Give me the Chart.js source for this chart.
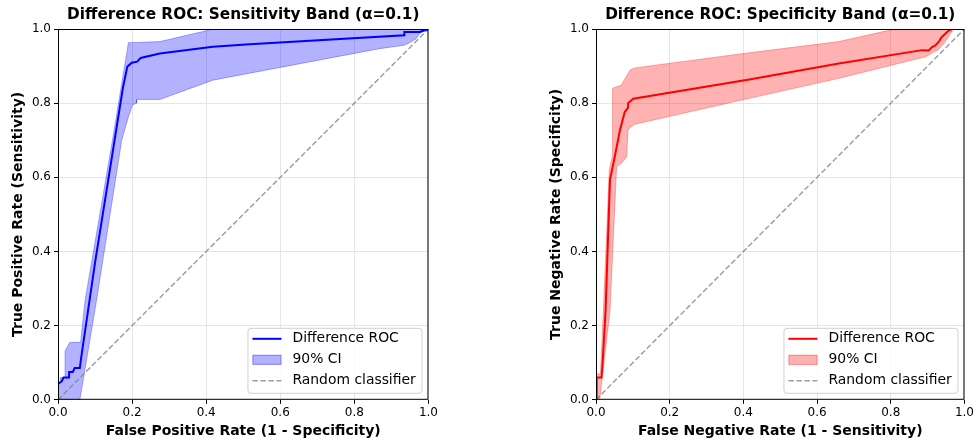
<!DOCTYPE html>
<html>
<head>
<meta charset="utf-8">
<script src="https://cdn.jsdelivr.net/npm/chart.js@4"></script>
<style>
  body { margin: 0; background: #fff; }
  .wrap { position: absolute; top: 0; height: 441px; }
</style>
</head>
<body>
<div class="wrap" style="left:0;width:440px"><canvas id="sensChart"></canvas></div>
<div class="wrap" style="left:538px;width:438px"><canvas id="specChart"></canvas></div>
<script>
// Sensitivity band (left panel)
const sensRocX = [0, 0, 0.01, 0.015, 0.03, 0.03, 0.04, 0.045, 0.055, 0.059, 0.062, 0.1, 0.14, 0.175, 0.187, 0.199, 0.214, 0.223, 0.275, 0.418, 0.517, 0.935, 0.935, 0.976, 1];
const sensRocY = [0, 0.043, 0.05, 0.06, 0.06, 0.075, 0.075, 0.086, 0.086, 0.086, 0.11, 0.37, 0.62, 0.84, 0.898, 0.909, 0.912, 0.922, 0.934, 0.952, 0.959, 0.983, 0.992, 0.992, 1];
const sensUpX = [0, 0.006, 0.006, 0.019, 0.019, 0.032, 0.061, 0.073, 0.147, 0.19, 0.275, 0.42, 1];
const sensUpY = [0.045, 0.045, 0.06, 0.06, 0.132, 0.155, 0.155, 0.268, 0.7, 0.963, 0.966, 1, 1];
const sensLoX = [0, 0.059, 0.104, 0.172, 0.19, 0.201, 0.212, 0.212, 0.275, 0.418, 0.868, 0.935, 0.949, 0.967, 0.976, 1];
const sensLoY = [0, 0, 0.268, 0.7, 0.763, 0.795, 0.8, 0.81, 0.81, 0.862, 0.947, 0.956, 0.963, 0.974, 0.988, 1];

// Specificity band (right panel)
const specRocX = [0, 0.002, 0.015, 0.018, 0.026, 0.038, 0.049, 0.065, 0.078, 0.087, 0.087, 0.101, 0.416, 0.659, 0.885, 0.903, 0.912, 0.92, 0.93, 0.938, 0.948, 0.957, 0.966, 0.978, 1];
const specRocY = [0, 0.06, 0.06, 0.1, 0.24, 0.594, 0.646, 0.727, 0.776, 0.788, 0.8, 0.812, 0.864, 0.907, 0.943, 0.942, 0.951, 0.955, 0.965, 0.978, 0.987, 0.996, 1, 1, 1];
const specUpX = [0, 0, 0.012, 0.02, 0.036, 0.045, 0.045, 0.069, 0.092, 0.105, 0.416, 0.659, 0.81, 1];
const specUpY = [0, 0.07, 0.07, 0.24, 0.62, 0.66, 0.84, 0.849, 0.889, 0.895, 0.936, 0.966, 1, 1];
const specLoX = [0, 0.01, 0.038, 0.056, 0.069, 0.083, 0.087, 0.092, 0.105, 0.416, 0.659, 0.894, 0.912, 0.93, 0.945, 0.957, 0.97, 1];
const specLoY = [0, 0, 0.24, 0.63, 0.638, 0.655, 0.727, 0.734, 0.743, 0.813, 0.867, 0.925, 0.935, 0.945, 0.962, 0.98, 1, 1];

const diagonal = [0, 1];
const tickValues = [0, 0.2, 0.4, 0.6, 0.8, 1.0];

const toPts = (xs, ys) => xs.map((x, i) => ({ x: x, y: ys[i] }));
// closed polygon: upper edge then lower edge reversed
const bandPts = (ux, uy, lx, ly) => toPts(ux, uy).concat(toPts(lx, ly).reverse());

const FONT = "'DejaVu Sans', sans-serif";
const DIAG_COLOR = 'rgba(128,128,128,0.75)';

// spines on all four sides + title centred over the plot area
const framePlugin = {
    id: 'frame',
    afterDraw(chart) {
        const a = chart.chartArea, c = chart.ctx;
        c.save();
        c.strokeStyle = '#000';
        c.lineWidth = 1;
        c.strokeRect(a.left + 0.5, a.top + 0.5, a.right - a.left - 1, a.bottom - a.top - 1);
        c.fillStyle = '#000';
        c.font = 'bold 15.3px ' + FONT;
        c.textAlign = 'center';
        c.textBaseline = 'middle';
        c.fillText(chart.options.plugins.frame.title, (a.left + a.right) / 2, 15);
        c.restore();
    }
};

const legendPlugin = {
    id: 'boxLegend',
    afterDraw(chart) {
        const a = chart.chartArea, c = chart.ctx;
        const o = chart.options.plugins.boxLegend;
        const w = 174, h = 65;
        const x = a.right - 7 - w, y = a.bottom - 7 - h;
        c.save();
        c.fillStyle = 'rgba(255,255,255,0.8)';
        c.strokeStyle = '#d0d0d0';
        c.lineWidth = 1;
        c.beginPath();
        c.roundRect(x + 0.5, y + 0.5, w, h, 3);
        c.fill();
        c.stroke();
        c.font = '13.9px ' + FONT;
        c.textBaseline = 'middle';
        const rows = [y + 11, y + 32, y + 53];
        c.strokeStyle = o.lineColor; c.lineWidth = 2;
        c.beginPath(); c.moveTo(x + 5, rows[0]); c.lineTo(x + 34, rows[0]); c.stroke();
        c.fillStyle = o.bandColor;
        c.fillRect(x + 5, rows[1] - 5, 29, 10);
        c.strokeStyle = o.bandColor; c.lineWidth = 1;
        c.strokeRect(x + 5.5, rows[1] - 4.5, 28, 9);
        c.strokeStyle = DIAG_COLOR; c.lineWidth = 1.5;
        c.setLineDash([5.5, 2.5]);
        c.beginPath(); c.moveTo(x + 5, rows[2]); c.lineTo(x + 34, rows[2]); c.stroke();
        c.setLineDash([]);
        c.fillStyle = '#000';
        c.fillText('Difference ROC', x + 45, rows[0]);
        c.fillText('90% CI', x + 45, rows[1]);
        c.fillText('Random classifier', x + 45, rows[2]);
        c.restore();
    }
};

function makeChart(id, title, xTitle, yTitle, roc, band, lineColor, bandColor) {
    const ctx = document.getElementById(id).getContext('2d');
    return new Chart(ctx, {
        type: 'scatter',
        data: {
            datasets: [
                {
                    label: 'Difference ROC',
                    data: roc,
                    showLine: true,
                    borderColor: lineColor,
                    borderWidth: 2,
                    pointRadius: 0,
                    tension: 0,
                    order: 0
                },
                {
                    label: 'Random classifier',
                    data: toPts(diagonal, diagonal),
                    showLine: true,
                    borderColor: DIAG_COLOR,
                    borderWidth: 1.5,
                    borderDash: [5.5, 2.5],
                    pointRadius: 0,
                    order: 1
                },
                {
                    label: '90% CI',
                    data: band,
                    showLine: true,
                    borderColor: bandColor,
                    backgroundColor: bandColor,
                    borderWidth: 1,
                    pointRadius: 0,
                    tension: 0,
                    fill: 'shape',
                    order: 2
                }
            ]
        },
        options: {
            responsive: true,
            maintainAspectRatio: false,
            animation: false,
            layout: { padding: { left: 10, right: 11, top: 29, bottom: 0 } },
            plugins: {
                legend: { display: false },
                tooltip: { enabled: false },
                title: { display: false },
                frame: { title: title },
                boxLegend: { lineColor: lineColor, bandColor: bandColor }
            },
            scales: {
                x: {
                    type: 'linear',
                    min: 0, max: 1,
                    afterBuildTicks: s => { s.ticks = tickValues.map(v => ({ value: v })); },
                    ticks: {
                        color: '#000',
                        font: { family: FONT, size: 12 },
                        padding: 2,
                        maxRotation: 0,
                        callback: v => v.toFixed(1)
                    },
                    grid: { color: '#e6e6e6', tickColor: '#000', tickLength: 4 },
                    border: { display: false },
                    title: {
                        display: true,
                        text: xTitle,
                        color: '#000',
                        font: { family: FONT, size: 14, weight: 'bold' },
                        padding: { top: 1, bottom: 1 }
                    }
                },
                y: {
                    type: 'linear',
                    min: 0, max: 1,
                    afterBuildTicks: s => { s.ticks = tickValues.map(v => ({ value: v })); },
                    afterFit: s => { s.width = 48; },
                    ticks: {
                        color: '#000',
                        font: { family: FONT, size: 12 },
                        padding: 3,
                        callback: v => v.toFixed(1)
                    },
                    grid: { color: '#e6e6e6', tickColor: '#000', tickLength: 4 },
                    border: { display: false },
                    title: {
                        display: true,
                        text: yTitle,
                        color: '#000',
                        font: { family: FONT, size: 14, weight: 'bold' },
                        padding: { top: 0, bottom: 0 }
                    }
                }
            }
        },
        plugins: [framePlugin, legendPlugin]
    });
}

makeChart('sensChart',
    'Difference ROC: Sensitivity Band (\u03b1=0.1)',
    'False Positive Rate (1 - Specificity)',
    'True Positive Rate (Sensitivity)',
    toPts(sensRocX, sensRocY),
    bandPts(sensUpX, sensUpY, sensLoX, sensLoY),
    'rgb(0,0,255)', 'rgba(0,0,255,0.3)');

makeChart('specChart',
    'Difference ROC: Specificity Band (\u03b1=0.1)',
    'False Negative Rate (1 - Sensitivity)',
    'True Negative Rate (Specificity)',
    toPts(specRocX, specRocY),
    bandPts(specUpX, specUpY, specLoX, specLoY),
    'rgb(255,0,0)', 'rgba(255,0,0,0.3)');
</script>
</body>
</html>
